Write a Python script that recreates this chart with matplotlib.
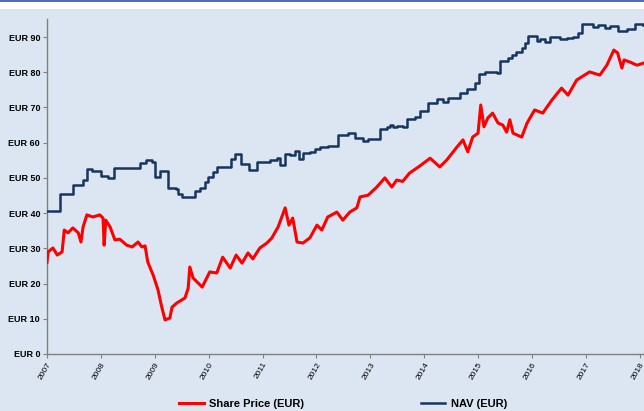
import matplotlib
matplotlib.use('Agg')
import matplotlib.pyplot as plt
from matplotlib.patches import Rectangle

plt.rcParams['font.family'] = ['Liberation Sans', 'DejaVu Sans']

# NAV (EUR), stepwise
nav_years = [2007.00, 2007.24, 2007.48, 2007.67, 2007.74, 2007.83, 2008.00, 2008.13, 2008.24,
             2008.73, 2008.84, 2008.95, 2009.00, 2009.10, 2009.24, 2009.39, 2009.43, 2009.50,
             2009.75, 2009.84, 2009.93, 2009.99, 2010.08, 2010.15, 2010.30, 2010.41, 2010.49,
             2010.60, 2010.75, 2010.90, 2011.14, 2011.27, 2011.32, 2011.42, 2011.51, 2011.60,
             2011.68, 2011.75, 2011.88, 2011.97, 2012.06, 2012.21, 2012.40, 2012.58, 2012.71,
             2012.86, 2012.96, 2013.18, 2013.31, 2013.36, 2013.42, 2013.49, 2013.60, 2013.68,
             2013.83, 2013.92, 2014.07, 2014.24, 2014.35, 2014.44, 2014.66, 2014.79, 2014.94,
             2015.01, 2015.13, 2015.27, 2015.35, 2015.40, 2015.55, 2015.63, 2015.70, 2015.81,
             2015.87, 2015.92, 2016.09, 2016.15, 2016.24, 2016.33, 2016.52, 2016.65, 2016.76,
             2016.85, 2016.93, 2017.13, 2017.22, 2017.35, 2017.45, 2017.59, 2017.76, 2017.91,
             2018.07]
nav = [40.6, 45.4, 48.0, 49.4, 52.5, 52.0, 50.5, 50.0, 52.8,
       54.2, 55.1, 54.5, 50.3, 52.0, 47.1, 46.8, 45.4, 44.6,
       46.3, 47.0, 48.8, 50.2, 51.7, 53.0, 53.2, 55.4, 56.8,
       54.0, 52.2, 54.5, 55.1, 55.6, 53.7, 56.8, 56.5, 57.6,
       55.4, 57.1, 57.4, 58.2, 58.8, 59.2, 62.2, 62.7, 61.3,
       60.5, 61.0, 63.9, 64.5, 65.0, 64.5, 64.8, 64.5, 66.7,
       67.3, 69.0, 71.3, 72.4, 71.6, 72.7, 74.1, 75.2, 76.9,
       79.5, 80.1, 80.1, 79.8, 83.2, 84.0, 84.9, 85.7, 86.9,
       88.3, 90.3, 88.9, 89.4, 88.6, 90.0, 89.4, 89.7, 90.0,
       91.1, 93.7, 92.8, 93.4, 92.6, 93.0, 91.7, 92.3, 93.7,
       93.4]

# Share Price (EUR)
px_years = [2007.00, 2007.02, 2007.11, 2007.19, 2007.28, 2007.32, 2007.39, 2007.48, 2007.58,
            2007.63, 2007.67, 2007.74, 2007.85, 2007.98, 2008.04, 2008.06, 2008.09, 2008.17,
            2008.26, 2008.35, 2008.48, 2008.58, 2008.69, 2008.76, 2008.82, 2008.87, 2008.97,
            2009.06, 2009.13, 2009.19, 2009.28, 2009.32, 2009.41, 2009.56, 2009.62, 2009.65,
            2009.71, 2009.88, 2010.02, 2010.15, 2010.26, 2010.40, 2010.51, 2010.62, 2010.73,
            2010.82, 2010.95, 2011.08, 2011.17, 2011.29, 2011.42, 2011.49, 2011.56, 2011.64,
            2011.75, 2011.88, 2012.01, 2012.10, 2012.21, 2012.38, 2012.49, 2012.62, 2012.75,
            2012.81, 2012.96, 2013.12, 2013.27, 2013.40, 2013.49, 2013.60, 2013.73, 2013.92,
            2014.11, 2014.29, 2014.42, 2014.61, 2014.72, 2014.81, 2014.90, 2015.00, 2015.05,
            2015.11, 2015.18, 2015.27, 2015.37, 2015.46, 2015.53, 2015.59, 2015.65, 2015.81,
            2015.91, 2016.05, 2016.20, 2016.37, 2016.55, 2016.67, 2016.83, 2017.07, 2017.26,
            2017.39, 2017.52, 2017.59, 2017.67, 2017.71, 2017.82, 2017.95, 2018.07]
price = [26.1, 29.0, 30.1, 28.1, 29.0, 35.2, 34.4, 35.8, 34.4,
         31.8, 36.1, 39.5, 38.9, 39.5, 38.6, 30.9, 38.0, 36.1,
         32.4, 32.6, 30.9, 30.4, 31.8, 30.4, 30.7, 26.1, 22.4,
         18.2, 13.3, 9.7, 10.2, 13.3, 14.5, 15.9, 18.7, 24.7,
         21.6, 19.0, 23.3, 23.0, 27.5, 24.4, 28.1, 25.8, 28.7,
         27.0, 30.1, 31.5, 32.9, 36.1, 41.5, 36.6, 38.6, 31.8,
         31.5, 33.0, 36.6, 35.2, 38.9, 40.3, 38.0, 40.3, 41.5,
         44.6, 45.1, 47.4, 50.0, 47.4, 49.4, 49.0, 51.4, 53.4,
         55.6, 53.1, 55.1, 58.8, 60.8, 57.4, 61.6, 62.7, 70.7,
         64.5, 67.0, 68.4, 65.6, 65.0, 63.0, 66.5, 62.7, 61.6,
         65.6, 69.3, 68.4, 72.1, 75.5, 73.5, 77.8, 80.1, 79.2,
         82.0, 86.3, 85.5, 81.2, 83.5, 82.9, 82.0, 82.6]

years = list(range(2007, 2019))
yticks = list(range(0, 100, 10))

bg = '#dce6f2'
fig = plt.figure(figsize=(6.44, 4.11), dpi=100, facecolor=bg)
fig.patches.append(Rectangle((0, 1 - 9 / 411), 1, 9 / 411, transform=fig.transFigure,
                             facecolor='white', edgecolor='none', zorder=0))
fig.patches.append(Rectangle((0, 1 - 2 / 411), 1, 2 / 411, transform=fig.transFigure,
                             facecolor='#4f6fb5', edgecolor='none', zorder=1))

ax = fig.add_axes([0.073, 0.1387, 0.927, 0.814])
ax.set_facecolor(bg)
ax.plot(px_years, price, color='#ff0000', lw=2.2, label='Share Price (EUR)', zorder=3)
ax.plot(nav_years, nav, color='#17365d', lw=1.8, drawstyle='steps-post', label='NAV (EUR)', zorder=3)

ax.set_xlim(2007, 2018.08)
ax.set_ylim(0, 95)
ax.set_xticks(years)
ax.set_xticklabels([str(y) for y in years], rotation=60, ha='right', rotation_mode='anchor',
                   fontsize=6)
ax.set_yticks(yticks)
ax.set_yticklabels(['EUR %d' % v for v in yticks], fontsize=6.5, fontweight='bold')
for s in ['top', 'right']:
    ax.spines[s].set_visible(False)
for s in ['left', 'bottom']:
    ax.spines[s].set_color('#808080')
    ax.spines[s].set_linewidth(1.0)
ax.tick_params(axis='both', color='#808080', length=3, width=0.8, pad=2)

fig.legend(loc='center', bbox_to_anchor=(0.533, 0.018), ncol=2, frameon=False,
           prop={'weight': 'bold', 'size': 8}, handlelength=2.2, handletextpad=0.5,
           columnspacing=10.5)

fig.savefig('out.png', dpi=100, facecolor=bg)
